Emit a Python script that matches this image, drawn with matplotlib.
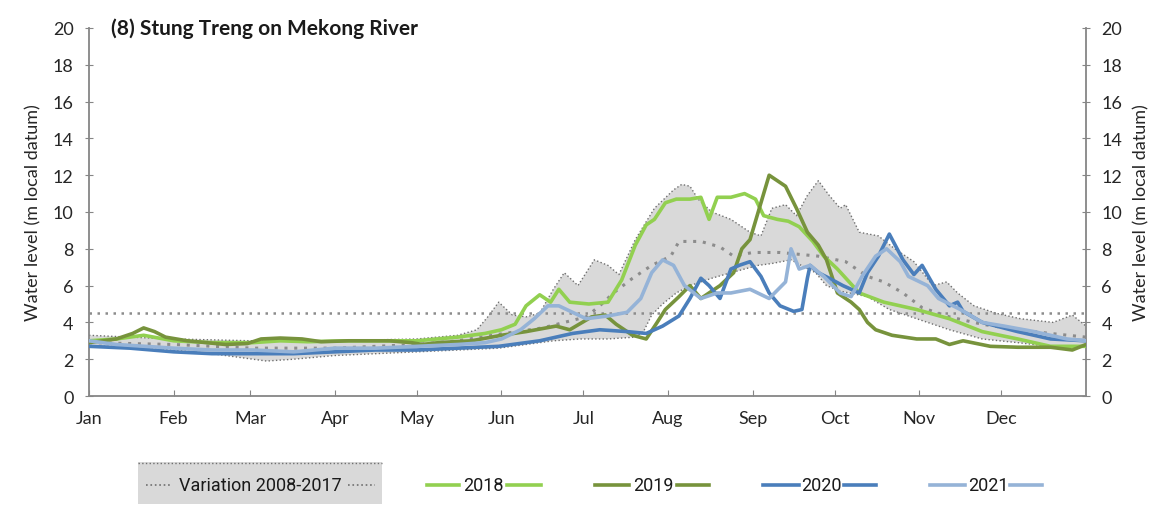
import numpy as np
import matplotlib.pyplot as plt
from matplotlib.lines import Line2D
from matplotlib.patches import Rectangle

plt.rcParams['font.family'] = ['Lato', 'DejaVu Sans']

months = ['Jan', 'Feb', 'Mar', 'Apr', 'May', 'Jun',
          'Jul', 'Aug', 'Sep', 'Oct', 'Nov', 'Dec']
month_start = [0, 31, 59, 90, 120, 151, 181, 212, 243, 273, 304, 334]

# (day of year, water level m)
hi_0817 = [(0, 3.3), (15, 3.2), (31, 3.1), (60, 3.0), (90, 3.0), (120, 3.1), (135, 3.3),
           (142, 3.6), (146, 4.3), (150, 5.1), (155, 4.4), (160, 4.3), (165, 4.5), (170, 5.8),
           (174, 6.7), (179, 6.0), (185, 7.4), (190, 7.1), (194, 6.6), (200, 8.5), (207, 10.2),
           (214, 11.2), (217, 11.5), (220, 11.4), (223, 10.7), (228, 10.0), (235, 9.6),
           (242, 8.9), (246, 8.7), (250, 10.2), (255, 10.4), (259, 9.8), (263, 10.9),
           (267, 11.7), (271, 10.9), (275, 10.2), (277, 10.4), (282, 8.9), (289, 8.7),
           (295, 8.0), (302, 7.3), (309, 6.0), (314, 6.2), (318, 5.6), (324, 4.9), (332, 4.5),
           (341, 4.2), (353, 4.0), (360, 4.4), (365, 3.8)]
lo_0817 = [(0, 2.7), (10, 2.7), (20, 2.6), (31, 2.5), (45, 2.3), (55, 2.1), (65, 1.9),
           (75, 2.0), (90, 2.2), (105, 2.3), (120, 2.4), (135, 2.5), (150, 2.6), (160, 2.8),
           (170, 3.0), (180, 3.1), (190, 3.1), (200, 3.2), (203, 3.5), (206, 4.4), (210, 5.0),
           (215, 5.6), (220, 6.0), (228, 6.4), (235, 6.7), (240, 6.9), (245, 7.1), (250, 7.2),
           (257, 7.4), (262, 7.0), (266, 6.7), (270, 6.0), (275, 5.7), (285, 5.4), (293, 4.7),
           (303, 4.2), (315, 3.6), (327, 3.1), (340, 2.9), (352, 2.7), (365, 2.7)]
avg_0817 = [(0, 2.9), (31, 2.8), (60, 2.6), (90, 2.6), (120, 2.8), (135, 3.0), (152, 3.4),
            (166, 3.7), (182, 4.3), (187, 4.9), (192, 5.6), (199, 6.4), (206, 7.1), (213, 7.6),
            (216, 8.4), (224, 8.4), (231, 8.1), (236, 7.6), (243, 7.8), (253, 7.8), (267, 7.6),
            (277, 7.3), (285, 6.5), (291, 6.2), (298, 5.6), (305, 4.8), (315, 4.3), (327, 3.9),
            (340, 3.6), (352, 3.4), (365, 3.2)]

wl_2018 = [(0, 3.0), (10, 3.1), (20, 3.3), (31, 3.0), (45, 2.9), (60, 2.9), (70, 3.0),
           (80, 2.95), (95, 3.0), (110, 3.0), (120, 3.0), (135, 3.2), (145, 3.4), (151, 3.6),
           (156, 3.9), (160, 4.9), (165, 5.5), (169, 5.1), (172, 5.8), (176, 5.1), (183, 5.0),
           (190, 5.1), (195, 6.3), (200, 8.2), (204, 9.3), (207, 9.6), (211, 10.5), (215, 10.7),
           (220, 10.7), (224, 10.8), (227, 9.6), (230, 10.8), (235, 10.8), (240, 11.0),
           (244, 10.7), (247, 9.8), (252, 9.6), (256, 9.5), (260, 9.2), (265, 8.4), (269, 7.6),
           (274, 6.9), (282, 5.6), (291, 5.1), (303, 4.7), (315, 4.2), (327, 3.5), (340, 3.1),
           (352, 2.7), (365, 2.7)]
wl_2019 = [(0, 2.9), (10, 3.1), (16, 3.4), (20, 3.7), (24, 3.5), (28, 3.2), (36, 3.0),
           (50, 2.8), (58, 2.85), (63, 3.1), (70, 3.15), (78, 3.1), (85, 2.95), (95, 3.0),
           (110, 3.0), (118, 2.9), (122, 2.8), (128, 2.9), (140, 3.0), (151, 3.3), (160, 3.5),
           (171, 3.8), (176, 3.6), (184, 4.3), (189, 4.4), (193, 3.9), (199, 3.3), (204, 3.1),
           (208, 4.0), (211, 4.7), (216, 5.4), (220, 6.0), (224, 5.3), (227, 5.6), (231, 6.0),
           (236, 6.7), (239, 8.0), (242, 8.5), (246, 10.5), (249, 12.0), (255, 11.4),
           (259, 10.2), (263, 8.9), (267, 8.2), (270, 7.4), (272, 6.5), (274, 5.6), (279, 5.1),
           (282, 4.7), (285, 4.0), (288, 3.6), (294, 3.3), (303, 3.1), (310, 3.1), (315, 2.8),
           (320, 3.0), (330, 2.7), (340, 2.65), (352, 2.65), (360, 2.5), (365, 2.8)]
wl_2020 = [(0, 2.7), (15, 2.6), (31, 2.4), (45, 2.3), (60, 2.3), (75, 2.3), (90, 2.4),
           (105, 2.5), (120, 2.5), (135, 2.6), (150, 2.7), (165, 3.0), (177, 3.4), (187, 3.6),
           (197, 3.5), (204, 3.4), (210, 3.8), (216, 4.35), (220, 5.3), (224, 6.4), (227, 6.0),
           (231, 5.3), (235, 6.9), (238, 7.1), (242, 7.3), (246, 6.5), (249, 5.6), (253, 4.9),
           (258, 4.6), (261, 4.7), (263, 6.4), (264, 7.1), (267, 6.7), (271, 6.4), (276, 6.0),
           (282, 5.6), (285, 6.7), (289, 7.6), (293, 8.8), (298, 7.4), (302, 6.6), (305, 7.1),
           (310, 5.8), (315, 4.9), (318, 5.1), (320, 4.6), (327, 4.0), (340, 3.5), (352, 3.1),
           (365, 3.0)]
wl_2021 = [(0, 3.0), (10, 2.8), (31, 2.6), (45, 2.5), (60, 2.5), (75, 2.4), (90, 2.6),
           (105, 2.6), (120, 2.7), (135, 2.8), (145, 2.9), (151, 3.1), (158, 3.6), (163, 4.2),
           (168, 4.9), (172, 4.9), (177, 4.55), (182, 4.2), (190, 4.35), (197, 4.55), (202, 5.3),
           (206, 6.7), (210, 7.4), (214, 7.1), (218, 6.0), (224, 5.3), (230, 5.6), (235, 5.6),
           (242, 5.8), (249, 5.3), (255, 6.2), (257, 8.0), (260, 6.9), (264, 7.1), (269, 6.5),
           (275, 5.6), (279, 5.4), (283, 6.5), (288, 7.6), (292, 8.0), (297, 7.3), (300, 6.5),
           (307, 6.0), (311, 5.3), (319, 4.7), (327, 4.0), (335, 3.8), (346, 3.5), (358, 3.1),
           (365, 3.0)]

ref_level = 4.5

years = ['2018', '2019', '2020', '2021']
year_data = [wl_2018, wl_2019, wl_2020, wl_2021]
year_colors = ['#92d050', '#77933c', '#4a7ebb', '#95b3d7']

grey = '#868686'
leg_font = ['Roboto', 'DejaVu Sans']

fig = plt.figure(figsize=(11.75, 5.06), dpi=100)
ax = fig.add_axes([89 / 1175, 1 - 397 / 506, 997 / 1175, 368 / 506])

hi = np.array(hi_0817)
lo = np.array(lo_0817)
ax.fill(np.r_[hi[:, 0], lo[::-1, 0]], np.r_[hi[:, 1], lo[::-1, 1]],
        color='#d9d9d9', lw=0, zorder=1)
ax.plot(hi[:, 0], hi[:, 1], ls=':', color='#6f6f6f', lw=1.0, zorder=2)
ax.plot(lo[:, 0], lo[:, 1], ls=':', color='#6f6f6f', lw=1.0, zorder=2)
avg = np.array(avg_0817)
ax.plot(avg[:, 0], avg[:, 1], ls=(0, (1, 2.2)), color='#8c8c8c', lw=2.2, zorder=2)
ax.axhline(ref_level, ls=(0, (1, 2.2)), color='#8c8c8c', lw=1.8, zorder=2)

for d, c in zip(year_data, year_colors):
    a = np.array(d)
    ax.plot(a[:, 0], a[:, 1], color=c, lw=2.6, zorder=3)

ax.set_xlim(0, 365)
ax.set_ylim(0, 20)
ax.set_xticks(month_start)
ax.set_xticklabels(months)
ax.set_yticks(range(0, 21, 2))
for s in ['left', 'bottom', 'right']:
    ax.spines[s].set_color(grey)
    ax.spines[s].set_linewidth(1.3)
ax.spines['top'].set_visible(False)
ax.tick_params(axis='x', direction='in', length=4, color=grey, labelsize=13,
               labelcolor='#262626', pad=10)
ax.tick_params(axis='y', direction='inout', length=6, color=grey, labelsize=13,
               labelcolor='#262626', pad=8)
ax.set_ylabel('Water level (m local datum)', fontsize=13, color='#262626', labelpad=8)

ax2 = ax.twinx()
ax2.set_ylim(0, 20)
ax2.set_yticks(range(0, 21, 2))
for s in ['left', 'bottom', 'right', 'top']:
    ax2.spines[s].set_visible(False)
ax2.tick_params(axis='y', direction='inout', length=6, color=grey, labelsize=13,
                labelcolor='#262626', pad=8)
ax2.set_ylabel('Water level (m local datum)', fontsize=13, color='#262626', labelpad=8)

ax.text(0.022, 1.0, '(8) Stung Treng on Mekong River', transform=ax.transAxes,
        fontsize=15, fontweight='bold', va='center', ha='left', color='#1a1a1a')

# legend row under the axes
W, H = 1175, 506
ly = 1 - 486 / H
fig.patches.append(Rectangle((138 / W, 1 - 505 / H), 244 / W, 42 / H,
                             transform=fig.transFigure, facecolor='#d9d9d9',
                             edgecolor='none', zorder=0))
fig.add_artist(Line2D([138 / W, 382 / W], [1 - 464 / H] * 2, ls=':', color='#6f6f6f', lw=1.0))
for x0, x1 in [(146, 172), (348, 375)]:
    fig.add_artist(Line2D([x0 / W, x1 / W], [ly, ly], ls=':', color='#6f6f6f', lw=1.2))
fig.text(260 / W, ly, 'Variation 2008-2017', fontsize=13, family=leg_font,
         ha='center', va='center', color='#1a1a1a')

leg_pos = [(427, 459, 483, 507, 541), (595, 629, 653, 677, 709),
           (763, 799, 821, 844, 876), (930, 965, 988, 1010, 1042)]
for (a0, a1, tx, b0, b1), lab, c in zip(leg_pos, years, year_colors):
    fig.add_artist(Line2D([a0 / W, a1 / W], [ly, ly], color=c, lw=2.6))
    fig.add_artist(Line2D([b0 / W, b1 / W], [ly, ly], color=c, lw=2.6))
    fig.text(tx / W, ly, lab, fontsize=13, family=leg_font,
             ha='center', va='center', color='#1a1a1a')

plt.savefig('out.png', dpi=100)
